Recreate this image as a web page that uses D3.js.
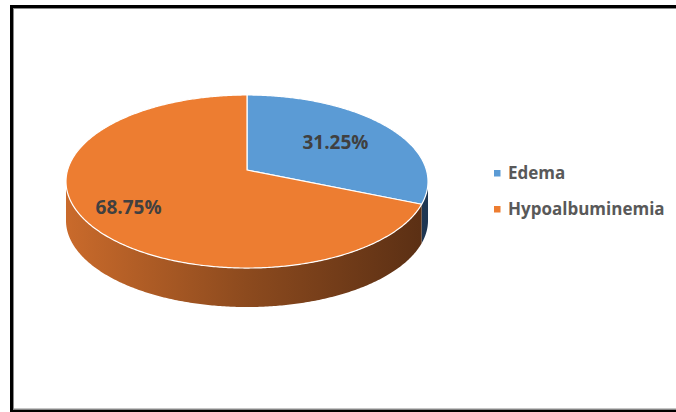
<!DOCTYPE html>
<html><head><meta charset="utf-8">
<script src="https://cdn.jsdelivr.net/npm/d3@7/dist/d3.min.js"></script>
<style>html,body{margin:0;padding:0;background:#fff;}svg{display:block;}</style>
</head><body>
<script>
const categories = ["Edema", "Hypoalbuminemia"];
const values = [31.25, 68.75];
const labels = ["31.25%", "68.75%"];
const topColors = ["#5B9BD5", "#ED7D31"];
const sideStops = [
  [["0", "#3A5F85"], ["1", "#1E3652"]],
  [["0", "#C96A2B"], ["0.5", "#8C4A1E"], ["1", "#5A2F14"]]
];
const labelRadius = [0.62, 0.75];

const W = 676, H = 412;
const svg = d3.select("body").append("svg").attr("width", W).attr("height", H);

// frame
svg.append("rect").attr("x", 11.5).attr("y", 6.5).attr("width", 720).attr("height", 404.5)
  .attr("fill", "#fff").attr("stroke", "#000").attr("stroke-width", 3);
svg.append("rect").attr("x", 13.5).attr("y", 8.5).attr("width", 720).attr("height", 400.5)
  .attr("fill", "none").attr("stroke", "#8a8a8a").attr("stroke-width", 1);

// perspective-projected pie: centre (cx, cy0), half-axes a, b, perspective k
const cx = 247, cy0 = 170, a = 179.4, b = 85, k = 0.133, depth = 39;
const pie = d3.pie().sort(null).value(d => d)(values);

const proj = (ang, f = 1) => {
  const den = 1 + k * f * Math.cos(ang);
  return [cx + a * f * Math.sin(ang) / den, cy0 - b * f * Math.cos(ang) / den];
};

const defs = svg.append("defs");
sideStops.forEach((stops, i) => {
  const g = defs.append("linearGradient").attr("id", "side" + i)
    .attr("gradientUnits", "userSpaceOnUse")
    .attr("x1", cx - a).attr("x2", cx + a).attr("y1", 0).attr("y2", 0);
  stops.forEach(s => g.append("stop").attr("offset", s[0]).attr("stop-color", s[1]));
});

function arcPts(a0, a1, dy) {
  const n = Math.max(2, Math.ceil(Math.abs(a1 - a0) / 0.01));
  const pts = [];
  for (let j = 0; j <= n; j++) {
    const p = proj(a0 + (a1 - a0) * j / n);
    pts.push([p[0], p[1] + dy]);
  }
  return pts;
}

// sides: visible between the two silhouette angles
const sil0 = Math.acos(-k), sil1 = 2 * Math.PI - Math.acos(-k);
pie.forEach((d, i) => {
  const a0 = Math.max(d.startAngle, sil0);
  const a1 = Math.min(d.endAngle, sil1);
  if (a1 <= a0) return;
  const pts = arcPts(a0, a1, 0).concat(arcPts(a1, a0, depth));
  svg.append("path").attr("d", "M" + pts.map(p => p.join(",")).join("L") + "Z")
    .attr("fill", `url(#side${i})`).attr("stroke", "none");
});

// tops
pie.forEach((d, i) => {
  const pts = [[cx, cy0]].concat(arcPts(d.startAngle, d.endAngle, 0));
  svg.append("path").attr("d", "M" + pts.map(p => p.join(",")).join("L") + "Z")
    .attr("fill", topColors[i]).attr("stroke", "#fff").attr("stroke-width", 1.2)
    .attr("stroke-linejoin", "round");
});

// labels
pie.forEach((d, i) => {
  const m = (d.startAngle + d.endAngle) / 2;
  const p = proj(m, labelRadius[i]);
  svg.append("text").attr("x", p[0]).attr("y", p[1]).attr("dy", "0.35em")
    .attr("text-anchor", "middle")
    .attr("font-family", "'Open Sans', sans-serif").attr("font-weight", "bold")
    .attr("font-size", 19).attr("fill", "#404040").text(labels[i]);
});

// legend
const lg = svg.append("g").attr("transform", "translate(494,170)");
categories.forEach((c, i) => {
  const g = lg.append("g").attr("transform", `translate(0,${i * 36})`);
  g.append("rect").attr("width", 6.5).attr("height", 6.5).attr("fill", topColors[i]);
  g.append("text").attr("x", 14).attr("y", 3.5).attr("dy", "0.35em")
    .attr("font-family", "'Open Sans', sans-serif").attr("font-weight", "bold")
    .attr("font-size", 17).attr("fill", "#595959").text(c);
});
</script>
</body></html>
